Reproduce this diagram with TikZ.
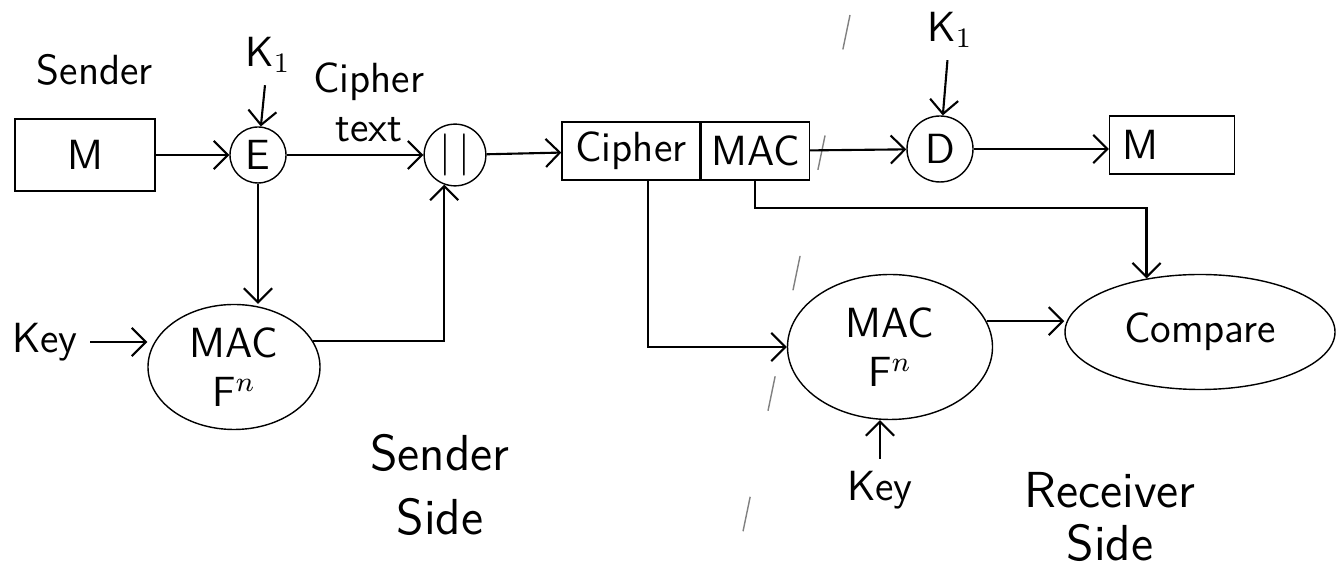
\documentclass[tikz,border=0pt]{standalone}
\usepackage{tikz}
\usetikzlibrary{arrows.meta,shapes.geometric,positioning,calc}

\begin{document}
\begin{tikzpicture}[
    box/.style={draw, minimum height=0.58cm, align=center, font=\sffamily\large, inner sep=2pt},
    op/.style={draw, circle, minimum size=0.56cm, inner sep=1pt, font=\sffamily\large},
    fn/.style={draw, ellipse, align=center, font=\sffamily\large, inner sep=1pt},
    arr/.style={-{Straight Barb[length=4pt]}, semithick},
    lbl/.style={font=\sffamily\large, align=center}
]
\useasboundingbox (0,0) rectangle (13.37,5.75);
% sender side
\node[lbl] (snd) at (0.95,5.05) {Sender};
\node[box, minimum width=1.4cm, minimum height=0.72cm] (Ms) at (0.85,4.2) {M};
\node[op] (E) at (2.58,4.2) {E};
\node[lbl] (K1s) at (2.68,5.2) {K$_1$};
\node[op, minimum size=0.6cm] (cat) at (4.55,4.2) {$|\,|$};
\node[fn, minimum width=1.72cm, minimum height=1.25cm] (macS) at (2.34,2.08) {MAC\\F$^n$};
\node[lbl] (keyS) at (0.45,2.33) {Key};
\node[lbl, font=\sffamily\Large] (sside) at (4.4,0.9) {Sender\\Side};
% receiver side
\node[box, minimum width=1.38cm] (cph) at (6.31,4.24) {Cipher};
\node[box, minimum width=1.08cm, right=0pt of cph] (mac) {MAC};
\node[op, minimum size=0.66cm] (D) at (9.4,4.26) {D};
\node[lbl] (K1r) at (9.5,5.45) {K$_1$};
\node[box, minimum width=1.25cm, text width=1.0cm, align=left] (Mr) at (11.72,4.3) {M};
\node[fn, minimum width=2.05cm, minimum height=1.45cm] (macR) at (8.9,2.28) {MAC\\F$^n$};
\node[fn, minimum width=2.7cm, minimum height=1.15cm] (cmp) at (12.0,2.43) {Compare};
\node[lbl] (keyR) at (8.8,0.85) {Key};
\node[lbl, font=\sffamily\Large] (rside) at (11.1,0.58) {Receiver\\[-3pt]Side};

% divider
\draw[gray, dash pattern=on 10pt off 25pt] (8.5,5.6) -- (7.35,0.05);

\draw[arr] (Ms) -- (E);
\draw[arr] (K1s) -- (E);
\draw[arr] (E) -- node[lbl, above, pos=0.6] {Cipher\\text} (cat);
\draw[arr] (cat) -- (cph);
\draw[arr] (E) -- (E |- macS.north);
\draw[arr] (keyS) -- (keyS -| macS.west);
\draw[arr] (macS.18) -| (cat.250);
\draw[arr] (mac) -- (D);
\draw[arr] (K1r) -- (D);
\draw[arr] (D) -- (D -| Mr.west);
\draw[arr] (cph.300) |- (macR.west);
\draw[arr] (mac.south) -- ++(0,-0.27) -| (cmp.135);
\draw[arr] (macR.15) -- (macR.15 -| cmp.west);
\draw[arr] (keyR) -- (keyR |- macR.south);
\end{tikzpicture}
\end{document}
